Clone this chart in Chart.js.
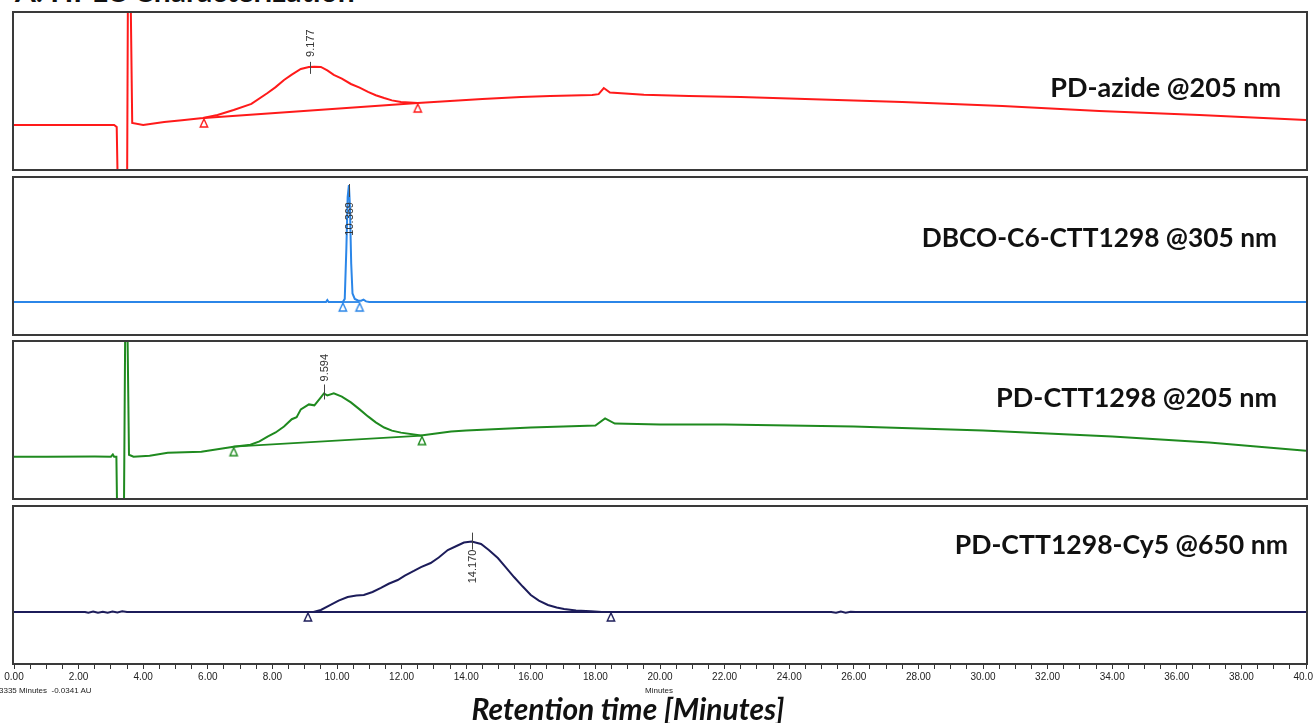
<!DOCTYPE html>
<html><head><meta charset="utf-8">
<script src="https://cdn.jsdelivr.net/npm/chart.js@4.4.1/dist/chart.umd.min.js"></script>
<style>
html,body{margin:0;padding:0;background:#fff;}
body{width:1313px;height:723px;position:relative;overflow:hidden;font-family:Lato,'Open Sans',sans-serif;}
canvas{position:absolute;left:0;}
.box{position:absolute;left:12px;width:1296px;height:160px;box-sizing:border-box;border:2px solid #3a3a3a;pointer-events:none;}
.lbl{position:absolute;font-weight:700;font-size:27px;line-height:27px;color:#111;white-space:nowrap;}
.small{position:absolute;font-family:'Liberation Sans Narrow','Liberation Sans',sans-serif;font-size:8px;color:#222;white-space:nowrap;}
#title{position:absolute;left:15px;top:-25px;font-weight:700;font-size:30px;line-height:30px;color:#111;white-space:nowrap;}
#xtitle{position:absolute;left:0;width:1256px;text-align:center;top:693px;font-weight:700;font-style:italic;font-size:30px;line-height:30px;color:#111;}
</style></head>
<body>
<div id="title">A. HPLC Characterization</div>
<canvas id="c1" width="1313" height="156" style="top:13px"></canvas>
<canvas id="c2" width="1313" height="156" style="top:178px"></canvas>
<canvas id="c3" width="1313" height="156" style="top:342px"></canvas>
<canvas id="c4" width="1313" height="180" style="top:507px"></canvas>
<div class="box" style="top:11px"></div>
<div class="box" style="top:176px"></div>
<div class="box" style="top:340px"></div>
<div class="box" style="top:505px"></div>
<div class="lbl" id="l1" style="right:32px;top:73px"></div>
<div class="lbl" id="l2" style="right:36px;top:224px;font-size:26.3px"></div>
<div class="lbl" id="l3" style="right:36px;top:383px"></div>
<div class="lbl" id="l4" style="right:25px;top:531px;font-size:26.6px"></div>
<div class="small" style="left:-1px;top:686px">3335 Minutes &nbsp;-0.0341 AU</div>
<div class="small" style="left:645px;top:686px">Minutes</div>
<div id="xtitle">Retention time [Minutes]</div>
<script>
// ---- data (retention time in minutes, detector signal in arbitrary units) ----
const panelLabels = ['PD-azide @205 nm', 'DBCO-C6-CTT1298 @305 nm', 'PD-CTT1298 @205 nm', 'PD-CTT1298-Cy5 @650 nm'];
const peakTimes = [9.177, 10.369, 9.594, 14.170];
const peakLabels = ['9.177', '10.369', '9.594', '14.170'];

const azideT = [0, 1.5, 3.1, 3.18, 3.22, 3.5, 3.53, 3.6, 3.66, 4.0, 4.65, 5.2, 5.85, 6.3, 6.8, 7.35, 7.85, 8.1, 8.36, 8.6, 8.88, 9.13, 9.3, 9.5, 9.7, 9.9, 10.15, 10.43, 10.7, 10.96, 11.2, 11.46, 11.7, 11.98, 12.5, 13.5, 14.5, 15.7, 16.6, 17.9, 18.1, 18.26, 18.45, 18.8, 19.5, 20.9, 22.5, 24.5, 27.5, 30.6, 33.6, 36.7, 40];
const azideY = [28.2, 28.2, 28.2, 26.9, -20, -20, 130, 130, 29.5, 28.2, 30.1, 31.2, 32.7, 34.6, 37.8, 41.7, 48.7, 52.5, 57.1, 60.5, 64.1, 65.4, 65.6, 65.4, 63.2, 60.3, 58.0, 54.5, 52.2, 49.4, 47.3, 45.5, 44.0, 42.9, 42.3, 43.6, 44.9, 46.2, 46.8, 47.4, 48.0, 51.9, 49.0, 48.5, 47.6, 46.8, 46.2, 44.9, 42.9, 40.4, 37.2, 34.6, 31.4];
const azideBaseT = [5.88, 12.5];
const azideBaseY = [32.7, 42.3];

const dbcoT = [0, 9.66, 9.7, 9.74, 10.18, 10.24, 10.29, 10.33, 10.369, 10.4, 10.44, 10.48, 10.55, 10.65, 10.75, 10.82, 10.9, 11.0, 40];
const dbcoY = [20.5, 20.5, 21.8, 20.5, 20.5, 22.5, 55, 88, 95.5, 82, 45, 26, 22.5, 21.5, 21.3, 22.0, 20.9, 20.5, 20.5];
const dbcoBaseT = [10.18, 10.7];
const dbcoBaseY = [20.5, 20.5];

const pdT = [0, 1.0, 2.5, 3.0, 3.06, 3.1, 3.17, 3.2, 3.4, 3.45, 3.5, 3.56, 3.7, 4.2, 4.76, 5.8, 6.8, 7.32, 7.6, 7.85, 8.1, 8.36, 8.6, 8.75, 8.88, 9.13, 9.3, 9.5, 9.594, 9.7, 9.9, 10.15, 10.43, 10.7, 10.96, 11.2, 11.46, 11.7, 11.98, 12.6, 13.53, 14, 16, 18, 18.3, 18.6, 20, 22, 26, 30, 34, 37, 40];
const pdY = [26.5, 26.5, 26.6, 26.5, 27.9, 26.5, 26.5, -20, -20, 130, 130, 27.7, 26.5, 27.1, 29.0, 29.7, 32.9, 34.2, 36.3, 39.4, 42.0, 45.8, 50.5, 51.8, 56.8, 60.0, 59.4, 64.5, 67.0, 65.8, 67.1, 65.0, 61.3, 56.8, 52.3, 48.5, 45.2, 43.2, 41.9, 40.0, 42.6, 43.2, 45.2, 46.5, 51.0, 47.7, 47.1, 47.1, 45.8, 43.2, 39.4, 35.5, 30.3];
const pdBaseT = [6.8, 12.63];
const pdBaseY = [32.9, 40.0];

const cyT = [0, 2.2, 2.3, 2.45, 2.6, 2.75, 2.9, 3.05, 3.2, 3.35, 3.5, 9.27, 9.5, 9.8, 10.05, 10.33, 10.6, 10.83, 11.1, 11.36, 11.6, 11.88, 12.1, 12.38, 12.6, 12.9, 13.15, 13.43, 13.7, 13.93, 14.17, 14.46, 14.7, 14.98, 15.2, 15.48, 15.75, 16.0, 16.25, 16.53, 16.8, 17.03, 17.4, 17.86, 18.2, 25.3, 25.45, 25.6, 25.75, 25.9, 26.05, 40];
const cyY = [32.7, 32.7, 32.2, 33.0, 32.3, 32.9, 32.2, 33.0, 32.4, 33.1, 32.7, 32.7, 34.0, 37.2, 40.0, 42.3, 43.3, 43.6, 45.5, 48.1, 50.8, 53.2, 56.0, 59.0, 61.5, 64.1, 67.6, 72.4, 75.0, 77.2, 77.8, 76.3, 72.5, 67.3, 62.0, 55.1, 49.0, 43.6, 40.0, 37.2, 35.6, 34.6, 33.7, 33.1, 32.7, 32.7, 32.2, 33.0, 32.3, 32.9, 32.7, 32.7];
const cyBaseT = [9.1, 18.48];
const cyBaseY = [32.7, 32.7];

const colors = ['#ff1a1a', '#2b86e8', '#1f8a1f', '#1c1c5a'];

// ---- helpers ----
function pts(t, y) { return t.map((v, i) => ({ x: v, y: y[i] })); }
function triangle(color) {
  const c = document.createElement('canvas');
  c.width = 16; c.height = 26;
  const g = c.getContext('2d');
  g.fillStyle = '#fff'; g.strokeStyle = color; g.lineWidth = 1.4;
  g.beginPath(); g.moveTo(8, 14); g.lineTo(4.3, 22); g.lineTo(11.7, 22); g.closePath();
  g.fill(); g.stroke();
  return c;
}
function interp(t, T, Y) {
  for (let i = 0; i < T.length - 1; i++) {
    if (t >= T[i] && t <= T[i + 1]) return Y[i] + (Y[i + 1] - Y[i]) * (t - T[i]) / (T[i + 1] - T[i]);
  }
  return Y[Y.length - 1];
}
function peakPlugin(idx, T, Y, cfg) {
  return {
    id: 'peak' + idx,
    afterDatasetsDraw(chart) {
      const ctx = chart.ctx, xs = chart.scales.x, ys = chart.scales.y;
      const t = peakTimes[idx];
      const px = Math.round(xs.getPixelForValue(t)) + 0.5;
      const py = Math.max(ys.getPixelForValue(interp(t, T, Y)), chart.chartArea.top + 7);
      ctx.save();
      ctx.strokeStyle = '#444'; ctx.lineWidth = 1;
      ctx.beginPath(); ctx.moveTo(px, py - cfg.up); ctx.lineTo(px, py + cfg.down); ctx.stroke();
      ctx.fillStyle = '#333';
      ctx.font = '11px "Liberation Sans", Arial, sans-serif';
      ctx.translate(px, py);
      ctx.rotate(-Math.PI / 2);
      ctx.textBaseline = 'middle';
      if (cfg.mode === 'above') { ctx.textAlign = 'left'; ctx.fillText(peakLabels[idx], cfg.gap, 0); }
      else { ctx.textAlign = 'right'; ctx.fillText(peakLabels[idx], -cfg.gap, 0); }
      ctx.restore();
    }
  };
}

function makeChart(id, idx, T, Y, BT, BY, cfg, withAxis) {
  const tri = triangle(colors[idx]);
  const xScale = {
    type: 'linear', min: 0, max: 40, display: !!withAxis,
    border: { display: false },
    grid: { display: true, drawOnChartArea: false, drawTicks: true, tickLength: 6, color: '#333', tickWidth: 1 },
    ticks: {
      stepSize: 0.5, autoSkip: false, maxRotation: 0, minRotation: 0, padding: 2, color: '#222',
      font: { family: "'Liberation Sans Narrow', 'Liberation Sans', sans-serif", size: 10 },
      callback: (v) => (Math.abs(v % 2) < 1e-9 ? v.toFixed(2) : '')
    }
  };
  if (withAxis) {
    xScale.afterFit = (s) => { s.height = 24; s.paddingLeft = 0; s.paddingRight = 0; };
  }
  return new Chart(document.getElementById(id), {
    type: 'line',
    data: {
      datasets: [
        { data: pts(T, Y), borderColor: colors[idx], borderWidth: 2, pointRadius: 0, tension: 0, fill: false },
        { data: pts(BT, BY), borderColor: colors[idx], borderWidth: 1.8, pointStyle: tri, pointRadius: 5, pointHoverRadius: 5, tension: 0, fill: false }
      ]
    },
    options: {
      responsive: false, animation: false, devicePixelRatio: 1,
      parsing: false, normalized: true,
      layout: { padding: { left: 14, right: 7, top: 0, bottom: 0 }, autoPadding: false },
      plugins: { legend: { display: false }, tooltip: { enabled: false }, title: { display: false } },
      scales: { x: xScale, y: { type: 'linear', min: 0, max: 100, display: false } },
      events: []
    },
    plugins: [peakPlugin(idx, T, Y, cfg)]
  });
}

panelLabels.forEach((s, i) => { document.getElementById('l' + (i + 1)).textContent = s; });

makeChart('c1', 0, azideT, azideY, azideBaseT, azideBaseY, { mode: 'above', up: 5, down: 7, gap: 10 });
makeChart('c2', 1, dbcoT, dbcoY, dbcoBaseT, dbcoBaseY, { mode: 'below', up: 1, down: 12, gap: 17 });
makeChart('c3', 2, pdT, pdY, pdBaseT, pdBaseY, { mode: 'above', up: 9, down: 6, gap: 12 });
makeChart('c4', 3, cyT, cyY, cyBaseT, cyBaseY, { mode: 'below', up: 9, down: 8, gap: 8 }, true);
</script>
</body></html>
